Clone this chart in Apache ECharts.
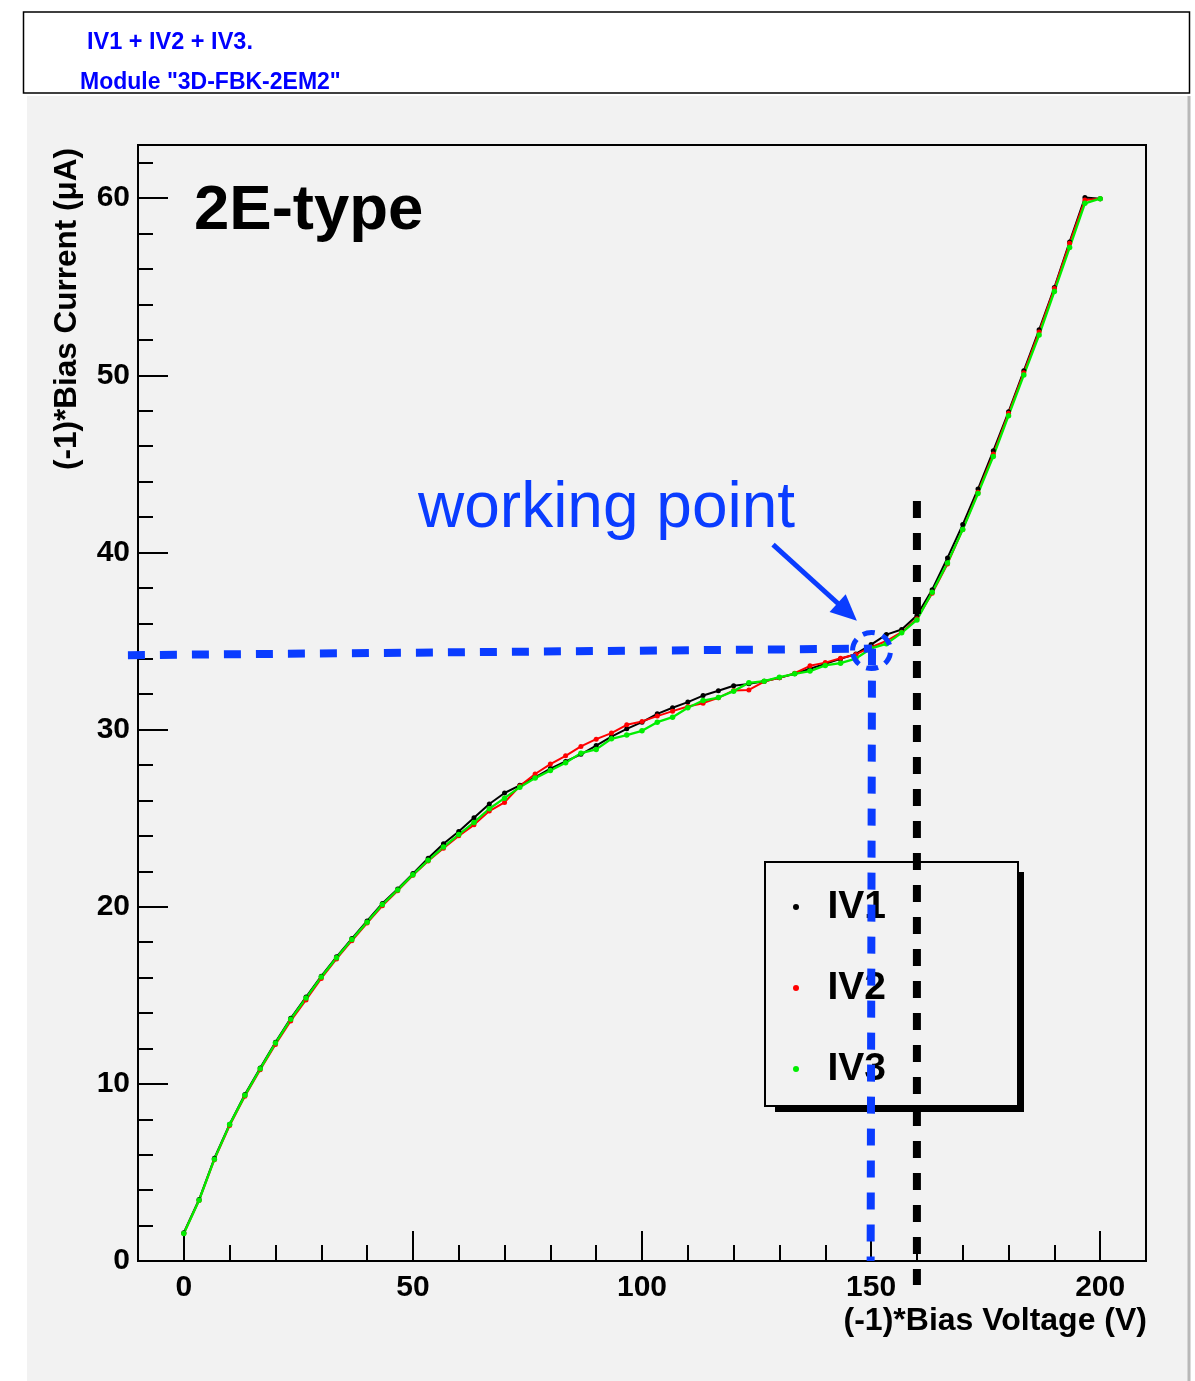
<!DOCTYPE html>
<html>
<head>
<meta charset="utf-8">
<script src="https://cdn.jsdelivr.net/npm/echarts@6/dist/echarts.min.js"></script>
<style>
    html, body { margin: 0; padding: 0; background: #fff; }
    #chart { width: 1195px; height: 1381px; }
</style>
</head>
<body>
<div id="chart"></div>
<script>
// bias voltage steps (V)
const voltage = [0, 3.33, 6.67, 10, 13.33, 16.67, 20, 23.33, 26.67, 30, 33.33, 36.67, 40, 43.33, 46.67,
    50, 53.33, 56.67, 60, 63.33, 66.67, 70, 73.33, 76.67, 80, 83.33, 86.67, 90, 93.33, 96.67,
    100, 103.33, 106.67, 110, 113.33, 116.67, 120, 123.33, 126.67, 130, 133.33, 136.67, 140, 143.33, 146.67,
    150, 153.33, 156.67, 160, 163.33, 166.67, 170, 173.33, 176.67, 180, 183.33, 186.67, 190, 193.33, 196.67, 200]
// bias current (uA)
const iv1 = [1.6, 3.47, 5.8, 7.72, 9.4, 10.9, 12.35, 13.7, 14.9, 16.08, 17.17, 18.2, 19.2, 20.18, 21.0,
    21.87, 22.74, 23.55, 24.25, 25.02, 25.8, 26.42, 26.85, 27.3, 27.8, 28.2, 28.6, 29.1, 29.6, 30.04,
    30.42, 30.89, 31.23, 31.55, 31.92, 32.19, 32.47, 32.58, 32.73, 32.92, 33.15, 33.43, 33.71, 33.99, 34.27,
    34.8, 35.36, 35.65, 36.44, 37.89, 39.69, 41.57, 43.58, 45.74, 47.94, 50.25, 52.57, 54.95, 57.53, 60.03, 59.97]
const iv2 = [1.55, 3.42, 5.72, 7.65, 9.3, 10.8, 12.22, 13.55, 14.74, 15.95, 17.05, 18.08, 19.08, 20.05, 20.9,
    21.78, 22.58, 23.3, 24.0, 24.62, 25.4, 25.89, 26.81, 27.49, 28.05, 28.52, 29.05, 29.46, 29.8, 30.27,
    30.46, 30.76, 31.04, 31.3, 31.49, 31.79, 32.21, 32.24, 32.71, 32.92, 33.18, 33.6, 33.78, 34.03, 34.24,
    34.65, 35.0, 35.5, 36.25, 37.7, 39.35, 41.3, 43.4, 45.55, 47.85, 50.15, 52.45, 54.9, 57.45, 59.9, 59.97]
const iv3 = [1.55, 3.43, 5.75, 7.7, 9.35, 10.85, 12.3, 13.65, 14.84, 16.03, 17.12, 18.15, 19.13, 20.12, 20.95,
    21.81, 22.62, 23.37, 24.07, 24.76, 25.53, 26.13, 26.75, 27.26, 27.69, 28.13, 28.67, 28.88, 29.48, 29.69,
    29.93, 30.42, 30.7, 31.23, 31.64, 31.81, 32.17, 32.64, 32.73, 32.96, 33.15, 33.3, 33.62, 33.75, 34.01,
    34.58, 34.84, 35.46, 36.19, 37.75, 39.41, 41.29, 43.33, 45.42, 47.72, 50.01, 52.27, 54.73, 57.21, 59.71, 59.97]

const xMajor = [0, 50, 100, 150, 200]
const xMinor = [10, 20, 30, 40, 60, 70, 80, 90, 110, 120, 130, 140, 160, 170, 180, 190]
const yMajor = [0, 10, 20, 30, 40, 50, 60]
const yMinor = [2, 4, 6, 8, 12, 14, 16, 18, 22, 24, 26, 28, 32, 34, 36, 38, 42, 44, 46, 48, 52, 54, 56, 58, 62]

// annotations, in data coordinates
const wpHLine = [[-12.2, 34.2], [150.2, 34.57]]
const wpVLine = [[150.2, 34.57], [149.9, 0]]
const wpCenter = [150.1, 34.46]
const cutLine = [[160, 42.9], [160, -1.35]]
const wpArrow = [[128.6, 40.44], [146.9, 36.15]]

const FONT = '"Liberation Sans", Arial, Helvetica, sans-serif'
const BLUE = '#0a3cff'

function makeSeries(name, values, color, width, size) {
    return {
        name: name,
        type: 'line',
        data: voltage.map((v, i) => [v, values[i]]),
        symbol: 'circle',
        symbolSize: size,
        showSymbol: true,
        lineStyle: { color: color, width: width },
        itemStyle: { color: color },
        emphasis: { disabled: true },
        clip: false
    }
}

function valueAxis(min, max, pos, ticks, len, labels) {
    return {
        type: 'value',
        min: min,
        max: max,
        position: pos,
        axisLine: { show: !!labels, onZero: false, lineStyle: { color: '#000', width: 2 } },
        axisTick: { show: true, inside: true, length: len, customValues: ticks, lineStyle: { color: '#000', width: 2 } },
        axisLabel: labels ? {
            customValues: labels,
            color: '#000',
            fontSize: 30,
            fontWeight: 'bold',
            fontFamily: FONT,
            margin: pos === 'bottom' ? 12 : 8
        } : { show: false },
        splitLine: { show: false }
    }
}

const chart = echarts.init(document.getElementById('chart'))
chart.setOption({
    animation: false,
    backgroundColor: '#fff',
    grid: {
        left: 138, right: 49, top: 145, bottom: 120,
        show: true, borderColor: '#000', borderWidth: 2, backgroundColor: 'transparent'
    },
    xAxis: [
        valueAxis(-10, 210, 'bottom', xMajor, 30, xMajor),
        valueAxis(-10, 210, 'bottom', xMinor, 16, null)
    ],
    yAxis: [
        valueAxis(0, 63, 'left', yMajor, 30, yMajor),
        valueAxis(0, 63, 'left', yMinor, 15, null)
    ],
    legend: {
        data: ['IV1', 'IV2', 'IV3'],
        orient: 'vertical',
        left: 765,
        top: 862,
        padding: [25.5, 0, 0, 28],
        itemGap: 42,
        itemWidth: 53,
        itemHeight: 6,
        icon: 'circle',
        selectedMode: false,
        textStyle: { fontSize: 39, fontWeight: 'bold', color: '#000', fontFamily: FONT }
    },
    series: [
        makeSeries('IV1', iv1, '#000000', 2, 5),
        makeSeries('IV2', iv2, '#ff0000', 2, 5),
        makeSeries('IV3', iv3, '#00ee00', 2.3, 5.5)
    ]
})

const toPx = p => chart.convertToPixel({ gridIndex: 0 }, p)

function dashedLine(pts, color, width) {
    const a = toPx(pts[0]), b = toPx(pts[1])
    return {
        type: 'line', z: 10,
        shape: { x1: a[0], y1: a[1], x2: b[0], y2: b[1] },
        style: { stroke: color, lineWidth: width, lineDash: [17, 15] }
    }
}

function arrow(pts) {
    const a = toPx(pts[0]), b = toPx(pts[1])
    const dx = b[0] - a[0], dy = b[1] - a[1]
    const l = Math.sqrt(dx * dx + dy * dy)
    const ux = dx / l, uy = dy / l
    const head = 26, half = 12
    const bx = b[0] - ux * head, by = b[1] - uy * head
    return [{
        type: 'line', z: 10,
        shape: { x1: a[0], y1: a[1], x2: bx + ux * 2, y2: by + uy * 2 },
        style: { stroke: BLUE, lineWidth: 5 }
    }, {
        type: 'polygon', z: 10,
        shape: { points: [[b[0], b[1]], [bx - uy * half, by + ux * half], [bx + uy * half, by - ux * half]] },
        style: { fill: BLUE }
    }]
}

const c = toPx(wpCenter)

chart.setOption({
    graphic: [
        // pad and header
        { type: 'rect', z: -100, shape: { x: 27, y: 96, width: 1161, height: 1285 }, style: { fill: '#f2f2f2' } },
        { type: 'line', z: -99, shape: { x1: 1189, y1: 96, x2: 1189, y2: 1381 }, style: { stroke: '#b8b8b8', lineWidth: 3 } },
        { type: 'rect', z: -99, shape: { x: 23.5, y: 12, width: 1166, height: 81 }, style: { fill: '#fff', stroke: '#000', lineWidth: 1.5 } },
        { type: 'text', x: 87, y: 43, style: { text: 'IV1 + IV2 + IV3.', fill: '#0000ff', fontSize: 23.5, fontWeight: 'bold', fontFamily: FONT, verticalAlign: 'middle' } },
        { type: 'text', x: 80, y: 83, style: { text: 'Module "3D-FBK-2EM2"', fill: '#0000ff', fontSize: 23, fontWeight: 'bold', fontFamily: FONT, verticalAlign: 'middle' } },
        // axis titles
        { type: 'text', x: 67, y: 148, rotation: Math.PI / 2, style: { text: '(-1)*Bias Current (\u03bcA)', fill: '#000', fontSize: 31.5, fontWeight: 'bold', fontFamily: FONT, align: 'right', verticalAlign: 'middle' } },
        { type: 'text', x: 1147, y: 1321, style: { text: '(-1)*Bias Voltage (V)', fill: '#000', fontSize: 32, fontWeight: 'bold', fontFamily: FONT, align: 'right', verticalAlign: 'middle' } },
        // labels
        { type: 'text', x: 194, y: 211, style: { text: '2E-type', fill: '#000', fontSize: 63.5, fontWeight: 'bold', fontFamily: FONT, verticalAlign: 'middle' } },
        { type: 'text', x: 418, y: 509, style: { text: 'working point', fill: BLUE, fontSize: 64, fontFamily: FONT, verticalAlign: 'middle' } },
        // legend frame with shadow
        { type: 'rect', z: 1, shape: { x: 775, y: 872, width: 249, height: 240 }, style: { fill: '#000' } },
        { type: 'rect', z: 2, shape: { x: 765, y: 862, width: 253, height: 244 }, style: { fill: '#f2f2f2', stroke: '#000', lineWidth: 2 } },
        // working point markers
        dashedLine(wpHLine, BLUE, 8),
        dashedLine(wpVLine, BLUE, 8),
        dashedLine(cutLine, '#000', 8),
        {
            type: 'ellipse', z: 10,
            shape: { cx: c[0], cy: c[1], rx: 19, ry: 18 },
            style: { fill: 'none', stroke: BLUE, lineWidth: 5, lineDash: [12, 8] }
        }
    ].concat(arrow(wpArrow))
})
</script>
</body>
</html>
